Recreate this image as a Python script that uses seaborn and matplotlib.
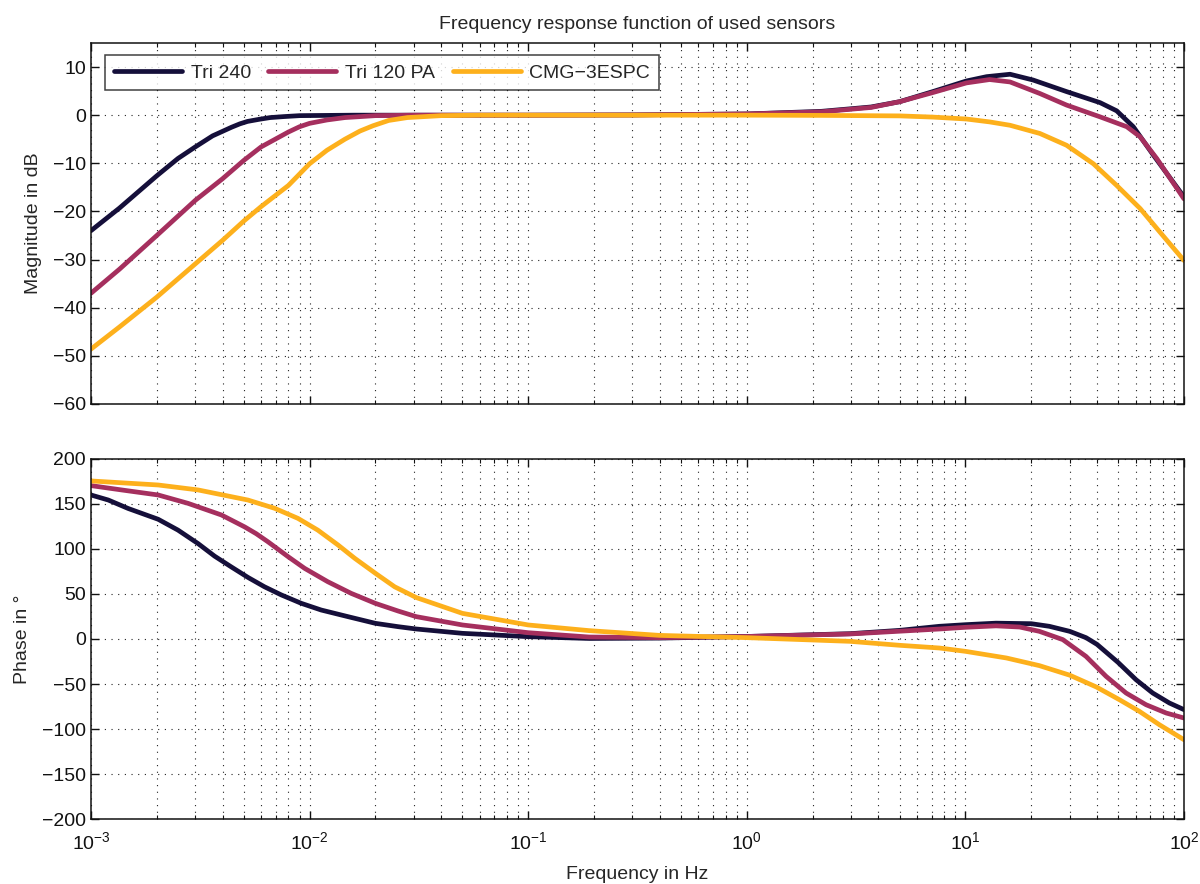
import numpy as np
import pandas as pd
import matplotlib
matplotlib.use("Agg")
import matplotlib.pyplot as plt
import matplotlib.ticker as mticker
from matplotlib.lines import Line2D
import seaborn as sns

# ---------------- data ----------------
series_names = ["Tri 240", "Tri 120 PA", "CMG\u22123ESPC"]
colors = ["#150f3a", "#a52f5e", "#fdb01c"]

# Magnitude (dB)
mag_f_tri240 = [1e-3, 1.35e-3, 2e-3, 2.5e-3, 3e-3, 3.6e-3, 4.4e-3, 4.8e-3, 5.2e-3, 5.9e-3, 6.6e-3,
                7.6e-3, 9e-3, 1.6e-2, 0.1, 0.3, 1, 2.2, 3.7, 5, 7.1, 10.1, 12.5, 16, 20.4, 29,
                41.3, 49.2, 58.6, 72.4, 100]
mag_db_tri240 = [-24.0, -19.3, -12.6, -9.0, -6.6, -4.3, -2.5, -1.8, -1.3, -0.85, -0.5,
                 -0.3, -0.1, 0.0, 0.0, 0.05, 0.25, 0.8, 1.7, 2.8, 4.9, 7.1, 8.0, 8.5, 7.3, 4.9,
                 2.6, 0.9, -2.4, -8.3, -17.0]

mag_f_tri120 = [1e-3, 1.35e-3, 2e-3, 3e-3, 4e-3, 5e-3, 6e-3, 8e-3, 9e-3, 1e-2, 1.2e-2, 1.45e-2,
                2e-2, 3e-2, 0.1, 0.3, 1, 2.2, 3.7, 5, 7.1, 10.1, 12.9, 16, 21.9, 29,
                41.3, 54.7, 63, 75, 100]
mag_db_tri120 = [-37.0, -32.0, -25.0, -17.7, -13.2, -9.4, -6.6, -3.5, -2.4, -1.7, -1.0, -0.5,
                 -0.1, 0.0, 0.0, 0.05, 0.25, 0.7, 1.6, 2.8, 4.7, 6.7, 7.4, 6.9, 4.5, 2.1,
                 -0.35, -2.4, -4.5, -9.0, -17.4]

mag_f_cmg = [1e-3, 1.35e-3, 2e-3, 3e-3, 4e-3, 5e-3, 6e-3, 8e-3, 1e-2, 1.2e-2, 1.45e-2,
             1.7e-2, 1.95e-2, 2.3e-2, 2.8e-2, 4e-2, 6e-2, 1, 2.2, 5, 7.1, 10.1, 12.9, 16, 21.9,
             29, 38.5, 49.2, 63, 77.6, 100]
mag_db_cmg = [-48.6, -44.0, -37.8, -30.9, -26.0, -22.0, -19.0, -14.6, -10.1, -7.3, -5.0,
              -3.3, -2.2, -1.1, -0.5, -0.1, 0.0, 0.0, -0.05, -0.15, -0.4, -0.8, -1.4, -2.1, -3.8,
              -6.25, -10.1, -14.6, -19.4, -24.3, -30.2]

# Phase (degrees)
ph_f_tri240 = [1e-3, 1.2e-3, 1.48e-3, 2.03e-3, 2.5e-3, 3.09e-3, 3.68e-3, 4.39e-3, 5.22e-3,
               6.22e-3, 7.42e-3, 9.17e-3, 1.13e-2, 1.5e-2, 2e-2, 2.54e-2, 3.08e-2, 5e-2, 0.1,
               0.19, 0.4, 1, 2.97, 5, 7.6, 10, 13.8, 20, 24.2, 30, 35.6, 40, 49.9, 60.3, 71.9,
               85.7, 100]
ph_deg_tri240 = [160, 154.4, 145, 133, 121, 106, 92, 80, 68.5,
                 58, 49, 39.6, 32.2, 24.8, 17.4, 13.7, 11.1, 6.3, 2.6,
                 0.6, 1.0, 2.8, 5.9, 9.6, 14.1, 15.9, 17.6, 17.0, 14.1, 8.5, 1.5, -6.0, -26.0,
                 -45.2, -60, -71.1, -78.5]

ph_f_tri120 = [1e-3, 1.38e-3, 2.03e-3, 2.78e-3, 3.95e-3, 5.05e-3, 5.7e-3, 6.45e-3, 7.97e-3, 9.49e-3,
               1.21e-2, 1.55e-2, 2e-2, 2.54e-2, 3.08e-2, 5e-2, 0.1, 0.19, 0.4, 1, 2.97, 7.6,
               10, 13.8, 17.7, 21.8, 27.9, 35.6, 44, 54.3, 67, 82.8, 100]
ph_deg_tri120 = [170.4, 165.6, 160, 150.7, 137.8, 124.5, 117, 108, 91.5, 78.5,
                 63.7, 50.7, 39.6, 31.1, 24.8, 15.6, 7, 2.2, 1.5, 2.8, 5.6, 11.1,
                 13, 14.6, 13.3, 8.5, -0.7, -19.3, -41.5, -60, -73, -82.2, -87.8]

ph_f_cmg = [1e-3, 2.03e-3, 3.09e-3, 5.22e-3, 6.92e-3, 8.85e-3, 1.09e-2, 1.35e-2, 1.61e-2,
            2e-2, 2.45e-2, 3.08e-2, 5e-2, 0.1, 0.19, 0.4, 1, 2.97, 5, 7.6, 10, 15.4, 21.8,
            30, 39.7, 50.6, 62.5, 77.1, 100]
ph_deg_cmg = [175.6, 171.1, 165.6, 154.4, 145.2, 134, 121, 104.4, 89.6,
              73, 58, 46, 28.5, 15.6, 9.3, 4, 1.5, -2.6, -7, -10, -13.7, -21.1, -29.6,
              -40.2, -53.3, -67.4, -80.4, -95.2, -111.9]

mag_ticks = [-60, -50, -40, -30, -20, -10, 0, 10]
phase_ticks = [-200, -150, -100, -50, 0, 50, 100, 150, 200]
x_ticks = [1e-3, 1e-2, 1e-1, 1e0, 1e1, 1e2]

# ---------------- tables ----------------
mag_df = pd.concat([
    pd.DataFrame({"f": mag_f_tri240, "v": mag_db_tri240, "sensor": series_names[0]}),
    pd.DataFrame({"f": mag_f_tri120, "v": mag_db_tri120, "sensor": series_names[1]}),
    pd.DataFrame({"f": mag_f_cmg, "v": mag_db_cmg, "sensor": series_names[2]}),
], ignore_index=True)
ph_df = pd.concat([
    pd.DataFrame({"f": ph_f_tri240, "v": ph_deg_tri240, "sensor": series_names[0]}),
    pd.DataFrame({"f": ph_f_tri120, "v": ph_deg_tri120, "sensor": series_names[1]}),
    pd.DataFrame({"f": ph_f_cmg, "v": ph_deg_cmg, "sensor": series_names[2]}),
], ignore_index=True)

# ---------------- style ----------------
sns.set_theme(style="ticks")
plt.rcParams["font.family"] = ["Liberation Sans", "DejaVu Sans"]
plt.rcParams["mathtext.default"] = "regular"
plt.rcParams["axes.unicode_minus"] = True

palette = dict(zip(series_names, colors))

fig = plt.figure(figsize=(12, 8.84), dpi=100)
ax1 = fig.add_axes([0.0758, 0.543, 0.9109, 0.4084])
ax2 = fig.add_axes([0.0758, 0.0735, 0.9109, 0.4073])

lw = 3.4
sns.lineplot(data=mag_df, x="f", y="v", hue="sensor", palette=palette, ax=ax1,
             estimator=None, sort=True, linewidth=lw, legend=False)
sns.lineplot(data=ph_df, x="f", y="v", hue="sensor", palette=palette, ax=ax2,
             estimator=None, sort=True, linewidth=lw, legend=False)

grid_kw = dict(color="#222222", linestyle=(0, (1, 5)), linewidth=0.8)
for ax in (ax1, ax2):
    ax.set_xscale("log")
    ax.set_xlim(1e-3, 1e2)
    ax.xaxis.set_major_locator(mticker.FixedLocator(x_ticks))
    ax.xaxis.set_minor_locator(mticker.LogLocator(base=10, subs=np.arange(2, 10), numticks=20))
    ax.grid(True, which="major", axis="both", **grid_kw)
    ax.grid(True, which="minor", axis="x", **grid_kw)
    ax.tick_params(which="both", direction="in", top=True, right=True,
                   labelsize=14, colors="#111111")
    ax.tick_params(which="major", length=6, width=1)
    ax.tick_params(which="minor", length=3, width=0.8)
    for sp in ax.spines.values():
        sp.set_linewidth(1.1)
        sp.set_color("#111111")
    ax.set_axisbelow(True)

ax1.set_ylim(-60, 15)
ax1.set_yticks(mag_ticks)
ax1.set_xticklabels([])
ax1.set_xlabel("")
ax1.set_ylabel("Magnitude in dB", fontsize=14, labelpad=8)
ax1.set_title("Frequency response function of used sensors", fontsize=14, pad=10)

ax2.set_ylim(-200, 200)
ax2.set_yticks(phase_ticks)
ax2.xaxis.set_major_formatter(mticker.LogFormatterSciNotation())
ax2.set_xlabel("Frequency in Hz", fontsize=14, labelpad=9)
ax2.set_ylabel("Phase in \u00b0", fontsize=14, labelpad=8)
ax2.tick_params(axis="x", which="major", pad=9, labelsize=14)

handles = [Line2D([0], [0], color=c, linewidth=lw) for c in colors]
leg = ax1.legend(handles, series_names, loc="upper left", ncol=3, frameon=True,
                 fancybox=False, edgecolor="#111111", fontsize=14,
                 handlelength=3.5, columnspacing=0.9, handletextpad=0.45,
                 borderpad=0.45, borderaxespad=0.0, bbox_to_anchor=(0.0128, 0.966))
leg.get_frame().set_linewidth(1.1)

fig.savefig("out.png", dpi=100)
